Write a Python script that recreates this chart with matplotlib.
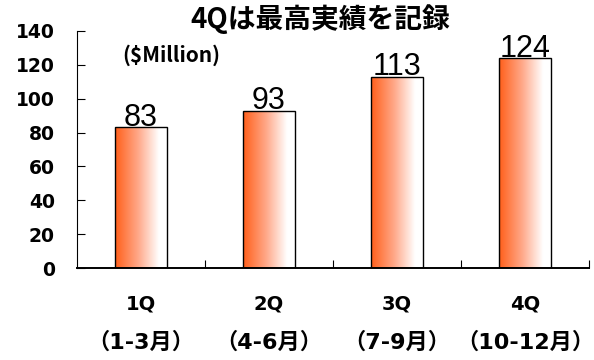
import matplotlib
matplotlib.use('Agg')
import matplotlib.pyplot as plt
import numpy as np
from matplotlib.colors import LinearSegmentedColormap

plt.rcParams['font.family'] = ['DejaVu Sans', 'Noto Sans CJK JP']

quarters = ['1Q', '2Q', '3Q', '4Q']
months = ['（1-3月）', '（4-6月）', '（7-9月）', '（10-12月）']
sales = [83, 93, 113, 124]
title = '4Qは最高実績を記録'
unit = '($Million)'

fig = plt.figure(figsize=(5.94, 3.6), dpi=100)
ax = fig.add_axes([77 / 594, 1 - 268 / 360, 512 / 594, 237 / 360])

x = np.arange(len(sales))
bars = ax.bar(x, sales, width=0.4, color='none', edgecolor='black', linewidth=1.0, zorder=3)

# orange -> white gradient inside each bar
cmap = LinearSegmentedColormap.from_list('og', [(0, '#ff5f1a'), (0.45, '#ffa98a'), (0.85, '#ffffff'), (1, '#ffffff')])
grad = np.linspace(0, 1, 256).reshape(1, -1)
for b in bars:
    x0, w, h = b.get_x(), b.get_width(), b.get_height()
    im = ax.imshow(grad, cmap=cmap, aspect='auto', extent=[x0, x0 + w, 0, h], zorder=2)
    im.set_clip_path(b)
    ax.text(x0 + w / 2, h + 0.8, str(h), ha='center', va='baseline', fontsize=22,
            family=['Liberation Sans', 'DejaVu Sans'], zorder=4)

ax.set_xlim(-0.5, len(sales) - 0.5)
ax.set_ylim(0, 140)
ax.set_yticks(range(0, 141, 20))
ax.set_yticklabels([str(v) for v in range(0, 141, 20)], fontsize=13.5, fontweight='bold')
ax.set_xticks(np.arange(len(sales)) + 0.5)
ax.set_xticklabels([])
ax.tick_params(axis='y', direction='in', length=6, width=0.8, pad=16)
ax.tick_params(axis='x', direction='in', length=6, width=0.8)

for i, (q, m) in enumerate(zip(quarters, months)):
    ax.text(i, -21.5, q, ha='center', va='center', fontsize=14, fontweight='bold')
    ax.text(i, -43.5, m, ha='center', va='center', fontsize=16, fontweight='bold', clip_on=False)

ax.spines['top'].set_visible(False)
ax.spines['right'].set_visible(False)
ax.spines['left'].set_linewidth(0.8)
ax.spines['bottom'].set_linewidth(1.4)

fig.text(320 / 594, 1 - 19 / 360, title, ha='center', va='center', fontsize=20, fontweight='bold',
         family=['Noto Sans CJK JP', 'DejaVu Sans'])
ax.text(0.234, 125.8, unit, ha='center', va='center', fontsize=15, fontweight='bold',
        family=['Noto Sans CJK JP', 'DejaVu Sans'])

fig.savefig('out.png', dpi=100)
